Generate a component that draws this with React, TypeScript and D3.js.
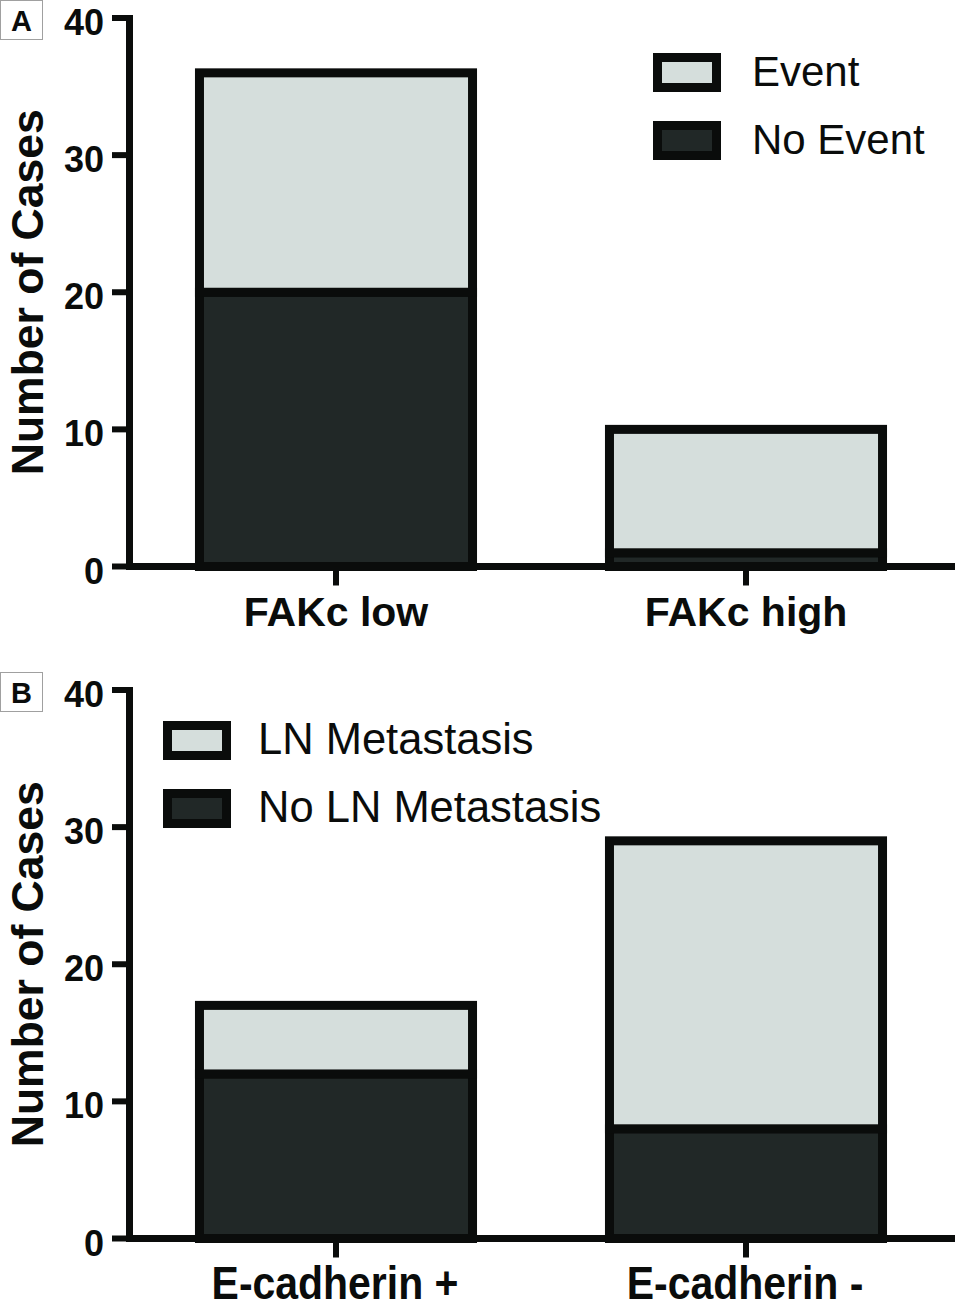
import React from "react";
import * as d3 from "d3";

const yTicks = [0, 10, 20, 30, 40];

const catsA = ["FAKc low", "FAKc high"];
const noEventA = [20, 1];
const eventA = [16, 9];
const legendA = ["Event", "No Event"];

const catsB = ["E-cadherin +", "E-cadherin -"];
const noLNB = [12, 8];
const lnB = [5, 21];
const legendB = ["LN Metastasis", "No LN Metastasis"];

const LIGHT = "#d5dedc";
const DARK = "#212827";
const INK = "#0a0c0b";
const FONT = "'Liberation Sans', Arial, Helvetica, sans-serif";

type PanelProps = {
  oy: number;
  letter: string;
  cats: string[];
  bottom: number[];
  top: number[];
  legend: string[];
  legendX: number;
  legendY: number;
  legendFont: number;
  legendTextX: number;
  condensed?: boolean;
};

function Panel({ oy, letter, cats, bottom, top, legend, legendX, legendY, legendFont, legendTextX, condensed }: PanelProps) {
  const y = d3.scaleLinear().domain([0, 40]).range([566.5, 18]);
  const x = d3.scaleBand<string>().domain(cats).range([131, 951]).paddingInner(0.334).paddingOuter(0.167);
  const bw = x.bandwidth();
  const stack = d3.stack<number>().keys(["b", "t"]).value((i, k) => (k === "b" ? bottom[i] : top[i]));
  const series = stack(d3.range(cats.length));
  const fills = [DARK, LIGHT];
  return (
    <g transform={`translate(0,${oy})`} fontFamily={FONT}>
      <rect x={0.5} y={0.5} width={42} height={39} fill="#fff" stroke="#a0a0a0" strokeWidth={1} />
      <text x={21.5} y={31} textAnchor="middle" fontWeight="bold" fontSize={29} fill={INK}>{letter}</text>
      {/* bars */}
      {series.map((s, si) =>
        s.map((d, i) => (
          <rect
            key={`${si}-${i}`}
            x={x(cats[i])!}
            y={y(d[1])}
            width={bw}
            height={y(d[0]) - y(d[1])}
            fill={fills[si]}
            stroke={INK}
            strokeWidth={9}
          />
        ))
      )}
      {/* y axis */}
      <line x1={129.5} x2={129.5} y1={y(40) - 3} y2={y(0) + 3.5} stroke={INK} strokeWidth={7} />
      {yTicks.map((t) => (
        <g key={t}>
          <line x1={112} x2={130} y1={y(t)} y2={y(t)} stroke={INK} strokeWidth={6} />
          <text x={104} y={y(t) + 17} textAnchor="end" fontWeight="bold" fontSize={36} fill={INK}>{t}</text>
        </g>
      ))}
      <text
        transform={`translate(43,${(y(0) + y(40)) / 2}) rotate(-90)`}
        textAnchor="middle"
        fontWeight="bold"
        fontSize={44.5}
        fill={INK}
      >Number of Cases</text>
      {/* x axis */}
      <line x1={126} x2={955} y1={y(0)} y2={y(0)} stroke={INK} strokeWidth={7} />
      {cats.map((c) => {
        const cx = x(c)! + bw / 2;
        return (
          <g key={c}>
            <line x1={cx} x2={cx} y1={y(0)} y2={y(0) + 19} stroke={INK} strokeWidth={6} />
            {condensed ? (
              <text transform={`translate(${cx - 1},627) scale(0.89,1)`} textAnchor="middle" fontWeight="bold" fontSize={46} fill={INK}>{c}</text>
            ) : (
              <text x={cx} y={626} textAnchor="middle" fontWeight="bold" fontSize={41} fill={INK}>{c}</text>
            )}
          </g>
        );
      })}
      {/* legend */}
      {legend.map((l, i) => (
        <g key={l} transform={`translate(${legendX},${legendY + i * 68})`}>
          <rect x={4.5} y={4.5} width={59} height={30} fill={i === 0 ? LIGHT : DARK} stroke={INK} strokeWidth={9} />
          <text x={legendTextX} y={33} fontSize={legendFont} fill={INK}>{l}</text>
        </g>
      ))}
    </g>
  );
}

export default function App() {
  return (
    <div style={{ position: "absolute", left: 0, top: 0 }}>
      <svg width={962} height={1313} viewBox="0 0 962 1313" style={{ display: "block", background: "#fff" }}>
        <rect width={962} height={1313} fill="#fff" />
        <Panel oy={0} letter="A" cats={catsA} bottom={noEventA} top={eventA} legend={legendA} legendX={653} legendY={53} legendFont={42} legendTextX={99} />
        <Panel oy={672} letter="B" cats={catsB} bottom={noLNB} top={lnB} legend={legendB} legendX={163} legendY={49} legendFont={43.5} legendTextX={95} condensed />
      </svg>
    </div>
  );
}
